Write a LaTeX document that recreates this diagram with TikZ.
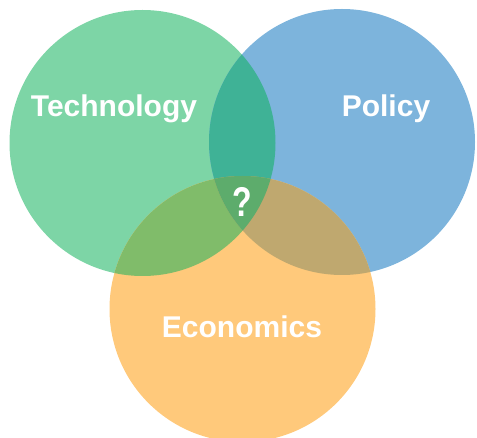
\documentclass[tikz,border=0pt]{standalone}
\usepackage{fontspec}
\setmainfont{Liberation Sans}
\definecolor{techc}{HTML}{7DD5A6}
\definecolor{polc}{HTML}{7DB4DC}
\definecolor{ecoc}{HTML}{FFC97B}
\definecolor{techpol}{HTML}{3FB296}
\definecolor{techeco}{HTML}{80BC6A}
\definecolor{poleco}{HTML}{BFA86F}
\definecolor{allthree}{HTML}{5DAC6C}
\tikzset{
  setlabel/.style={text=white, font=\bfseries\fontsize{30}{36}\selectfont, inner sep=0pt, anchor=base},
}
\begin{document}
\begin{tikzpicture}[x=1pt, y=-1pt]
  \useasboundingbox (0,0) rectangle (477,438);
  \def\R{133}
  \coordinate (ct) at (142.5,143);
  \coordinate (cp) at (342,142);
  \coordinate (ce) at (242.5,309);
  % single sets
  \fill[techc] (ct) circle (\R);
  \fill[polc] (cp) circle (\R);
  \fill[ecoc] (ce) circle (\R);
  % pairwise overlaps
  \begin{scope}
    \clip (ct) circle (\R);
    \fill[techpol] (cp) circle (\R);
  \end{scope}
  \begin{scope}
    \clip (ct) circle (\R);
    \fill[techeco] (ce) circle (\R);
  \end{scope}
  \begin{scope}
    \clip (cp) circle (\R);
    \fill[poleco] (ce) circle (\R);
  \end{scope}
  % common region of all three
  \begin{scope}
    \clip (ct) circle (\R);
    \clip (cp) circle (\R);
    \fill[allthree] (ce) circle (\R);
  \end{scope}
  % labels
  \node[setlabel] (tech) at (114,117) {Technology};
  \node[setlabel] (pol) at (386,117) {Policy};
  \node[setlabel] (eco) at (242,338) {Economics};
  \node[setlabel, font=\bfseries\fontsize{32}{38}\selectfont] (q) at (242,217) {\scalebox{1}[1.3]{?}};
\end{tikzpicture}
\end{document}
